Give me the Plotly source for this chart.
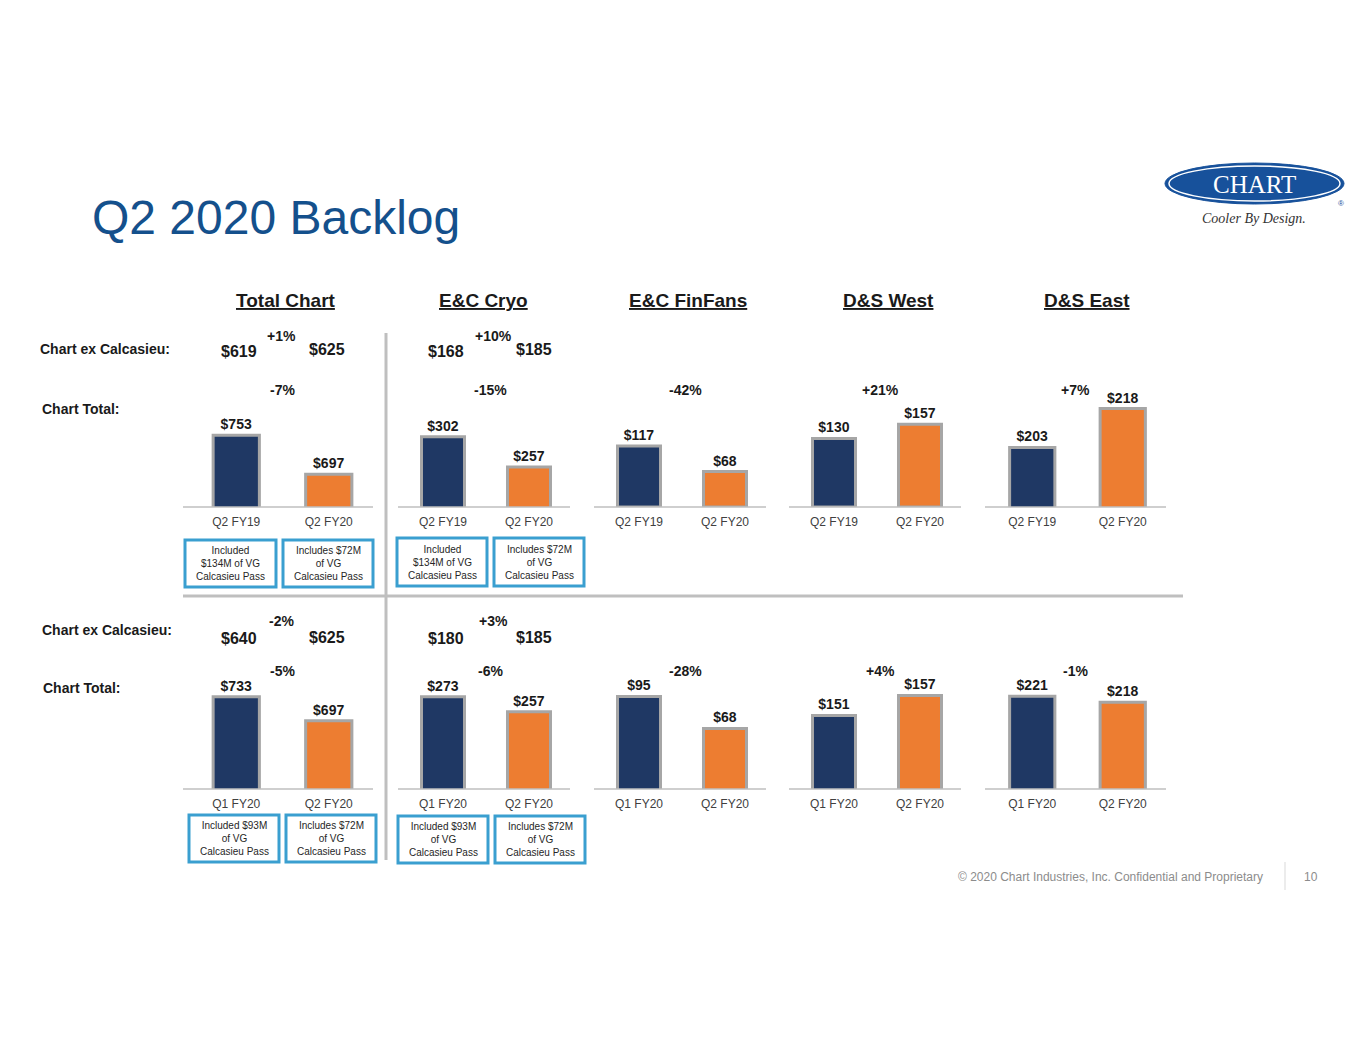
import plotly.graph_objects as go

W, H = 1365, 1055

segments = ["Total Chart", "E&C Cryo", "E&C FinFans", "D&S West", "D&S East"]

# top row: Q2 FY19 vs Q2 FY20
yoy_labels = ["Q2 FY19", "Q2 FY20"]
yoy_values = [[753, 697], [302, 257], [117, 68], [130, 157], [203, 218]]
yoy_pct = ["-7%", "-15%", "-42%", "+21%", "+7%"]

# bottom row: Q1 FY20 vs Q2 FY20
qoq_labels = ["Q1 FY20", "Q2 FY20"]
qoq_values = [[733, 697], [273, 257], [95, 68], [151, 157], [221, 218]]
qoq_pct = ["-5%", "-6%", "-28%", "+4%", "-1%"]

# ex Calcasieu figures (Total Chart, E&C Cryo only)
yoy_ex = [["$619", "$625", "+1%"], ["$168", "$185", "+10%"]]
qoq_ex = [["$640", "$625", "-2%"], ["$180", "$185", "+3%"]]

yoy_notes = ["Included<br>$134M of VG<br>Calcasieu Pass", "Includes $72M<br>of VG<br>Calcasieu Pass",
             "Included<br>$134M of VG<br>Calcasieu Pass", "Includes $72M<br>of VG<br>Calcasieu Pass"]
qoq_notes = ["Included $93M<br>of VG<br>Calcasieu Pass", "Includes $72M<br>of VG<br>Calcasieu Pass",
             "Included $93M<br>of VG<br>Calcasieu Pass", "Includes $72M<br>of VG<br>Calcasieu Pass"]

# axis ranges per panel (bars are not zero-based on the slide)
yoy_ranges = [[650, 832], [197, 387], [0, 244], [0, 241], [180, 229]]
qoq_ranges = [[595, 785], [175, 310], [17, 124], [129, 167], [175, 238]]

NAVY, ORANGE, EDGE = "#1f3864", "#ed7d31", "#a6a6a6"
BOXBLUE = "#3a9fd0"
FONT = "Liberation Sans, Arial, sans-serif"

def px(x):
    return x / W

def py(y):
    return 1 - y / H

panel_x = [(190, 375), (400, 572), (596, 768), (791, 963), (987, 1168)]
axis_x = [(183, 373), (398, 570), (594, 766), (789, 961), (985, 1166)]
centers = [286, 483, 688, 888, 1087]
pct_x = [282, 490, 685, 880, 1075]

fig = go.Figure()
ann = []
shapes = []

rows = [
    (yoy_labels, yoy_values, yoy_ranges, (380, 507)),
    (qoq_labels, qoq_values, qoq_ranges, (662, 789)),
]
n = 0
for r, (labels, values, ranges, (ytop, ybase)) in enumerate(rows):
    for i in range(5):
        n += 1
        xa = "x" if n == 1 else f"x{n}"
        ya = "y" if n == 1 else f"y{n}"
        vals = values[i]
        fig.add_trace(go.Bar(
            x=labels, y=vals, xaxis=xa, yaxis=ya,
            marker=dict(color=[NAVY, ORANGE], line=dict(color=EDGE, width=3)),
            texttemplate="<b>$%{y}</b>", textposition="outside",
            textfont=dict(family=FONT, size=14, color="#1a1a1a"),
            cliponaxis=False, showlegend=False, width=0.5,
        ))
        x0, x1 = panel_x[i]
        fig.update_layout(**{
            ("xaxis" if n == 1 else f"xaxis{n}"): dict(
                domain=[px(x0), px(x1)], anchor=ya, showgrid=False,
                showline=False, ticks="", ticklabelstandoff=6,
                tickfont=dict(family=FONT, size=12, color="#404040"), fixedrange=True),
            ("yaxis" if n == 1 else f"yaxis{n}"): dict(
                domain=[py(ybase), py(ytop)], anchor=xa, range=ranges[i],
                visible=False, fixedrange=True),
        })
        a0, a1 = axis_x[i]
        shapes.append(dict(type="line", xref="paper", yref="paper", x0=px(a0), x1=px(a1),
                           y0=py(ybase), y1=py(ybase), line=dict(color="#bfbfbf", width=1.5)))

def text(x, y, s, size=14, bold=True, color="#1a1a1a", xanchor="center", family=FONT):
    ann.append(dict(x=px(x), y=py(y), xref="paper", yref="paper", text=f"<b>{s}</b>" if bold else s,
                    showarrow=False, xanchor=xanchor, yanchor="middle",
                    font=dict(family=family, size=size, color=color)))

# title
text(90, 217, "Q2 2020 Backlog", size=48, bold=False, color="#14508c", xanchor="left")

# headers
for c, s in zip(centers, segments):
    text(c, 301, f"<u>{s}</u>", size=19)

# row labels
text(38, 349, "Chart ex Calcasieu:", xanchor="left")
text(40, 409, "Chart Total:", xanchor="left")
text(40, 630, "Chart ex Calcasieu:", xanchor="left")
text(41, 688, "Chart Total:", xanchor="left")

# percent changes
for i in range(5):
    text(pct_x[i], 390, yoy_pct[i])
    text(pct_x[i], 671, qoq_pct[i])

# ex Calcasieu values
ex_pos = [(239, 327, 281), (446, 534, 493)]
for i in range(2):
    a, b, c = ex_pos[i]
    text(a, 351, yoy_ex[i][0], size=16)
    text(b, 349, yoy_ex[i][1], size=16)
    text(c, 336, yoy_ex[i][2])
    text(a, 638, qoq_ex[i][0], size=16)
    text(b, 637, qoq_ex[i][1], size=16)
    text(c, 621, qoq_ex[i][2])

# note boxes
top_boxes = [(185, 540, 276, 587), (283, 540, 373, 587), (397, 538, 487, 586), (494, 538, 584, 586)]
bot_boxes = [(189, 815, 279, 862), (286, 815, 376, 862), (398, 816, 488, 863), (495, 816, 585, 863)]
for boxes, notes in ((top_boxes, yoy_notes), (bot_boxes, qoq_notes)):
    for (x0, y0, x1, y1), s in zip(boxes, notes):
        shapes.append(dict(type="rect", xref="paper", yref="paper", x0=px(x0), x1=px(x1),
                           y0=py(y1), y1=py(y0), line=dict(color=BOXBLUE, width=3)))
        text((x0 + x1) / 2, (y0 + y1) / 2, s, size=10, bold=False, color="#262626")

# separators
shapes.append(dict(type="line", xref="paper", yref="paper", x0=px(386), x1=px(386),
                   y0=py(860), y1=py(333), line=dict(color="#bfbfbf", width=3)))
shapes.append(dict(type="line", xref="paper", yref="paper", x0=px(183), x1=px(1183),
                   y0=py(596), y1=py(596), line=dict(color="#bfbfbf", width=3)))

# logo
shapes.append(dict(type="circle", xref="paper", yref="paper", x0=px(1165), x1=px(1344),
                   y0=py(204), y1=py(163), fillcolor="#17519b", line=dict(color="#17519b", width=1)))
shapes.append(dict(type="circle", xref="paper", yref="paper", x0=px(1169), x1=px(1340),
                   y0=py(201), y1=py(166), line=dict(color="white", width=1.5)))
text(1254, 184, "CHART", size=25, bold=False, color="white", family="Liberation Serif, serif")
text(1341, 203, "®", size=8, bold=False, color="#17519b")
text(1254, 218, "<i>Cooler By Design.</i>", size=14, bold=False, color="#333333",
     family="Liberation Serif, serif")

# footer
text(1265, 877, "© 2020 Chart Industries, Inc. Confidential and Proprietary", size=12, bold=False,
     color="#8c8c8c", xanchor="right")
text(1311, 877, "10", size=12, bold=False, color="#8c8c8c")
shapes.append(dict(type="line", xref="paper", yref="paper", x0=px(1285), x1=px(1285),
                   y0=py(890), y1=py(862), line=dict(color="#d9d9d9", width=1)))

fig.update_layout(
    width=W, height=H, margin=dict(l=0, r=0, t=0, b=0),
    paper_bgcolor="white", plot_bgcolor="white",
    annotations=ann, shapes=shapes, bargap=0.5,
)

fig.write_html("out.html", config={"displayModeBar": False},
               post_script="document.body.style.margin='0';")
